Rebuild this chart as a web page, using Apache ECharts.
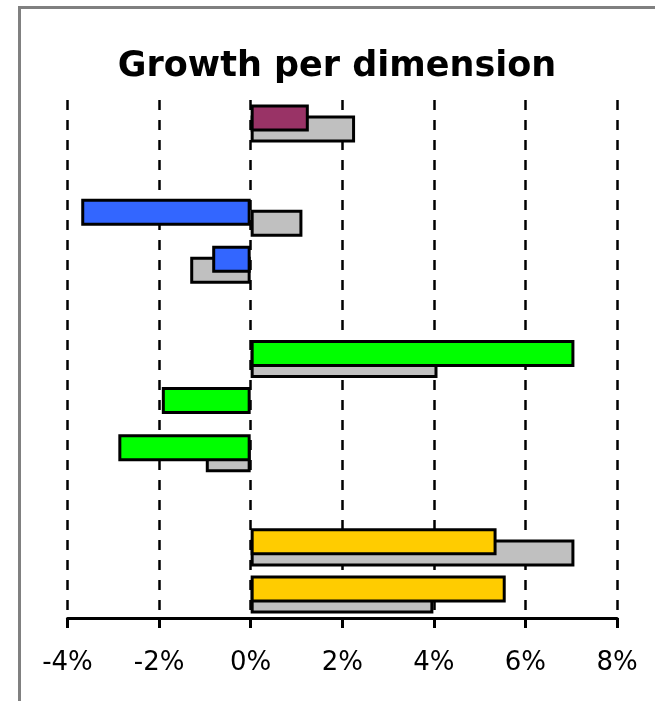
<!DOCTYPE html>
<html>
<head>
<meta charset="utf-8">
<script src="https://cdn.jsdelivr.net/npm/echarts@6/dist/echarts.min.js"></script>
<style>
  html, body { margin: 0; padding: 0; background: #fff; }
  #chart { width: 655px; height: 701px; }
</style>
</head>
<body>
<div id="chart"></div>
<script>
// Rows from top to bottom; the "sp" rows are empty spacers between groups.
const categories = ['Total', 'sp1', 'Channel A', 'Channel B', 'sp2',
                    'Region N', 'Region S', 'Region W', 'sp3', 'Segment X', 'Segment Y'];

// Growth this period (%), coloured bars
const currentGrowth = [1.27, null, -3.70, -0.84, null, 7.07, -1.94, -2.89, null, 5.37, 5.57];

// Growth previous period (%), grey bars behind
const previousGrowth = [2.28, null, 1.13, -1.32, null, 4.08, null, -0.98, null, 7.07, 3.99];

// Fill colour for each row's current bar
const rowColors = ['#993366', null, '#3366FF', '#3366FF', null,
                   '#00FF00', '#00FF00', '#00FF00', null, '#FFCC00', '#FFCC00'];

// Value-axis ticks
const axisMin = -4, axisMax = 8, axisStep = 2;

const chart = echarts.init(document.getElementById('chart'), null, { renderer: 'canvas' });

chart.setOption({
  backgroundColor: '#fff',
  animation: false,
  graphic: [
    {
      type: 'rect', silent: true, z: 0,
      shape: { x: 19.5, y: 7.5, width: 700, height: 700 },
      style: { fill: null, stroke: '#808080', lineWidth: 3 }
    },
    {
      type: 'text', silent: true, z: 10,
      x: 337, y: 67,
      style: {
        text: 'Growth per dimension',
        font: 'bold 35px "DejaVu Sans", sans-serif',
        fill: '#000',
        align: 'center',
        verticalAlign: 'middle'
      }
    }
  ],
  grid: { left: 67.5, right: 38, top: 100, bottom: 83, containLabel: false },
  xAxis: {
    type: 'value',
    min: axisMin, max: axisMax, interval: axisStep,
    axisLine: { show: true, lineStyle: { color: '#000', width: 3 } },
    axisTick: { show: true, length: 10, lineStyle: { color: '#000', width: 3 } },
    axisLabel: {
      formatter: '{value}%',
      color: '#000',
      fontSize: 26,
      fontFamily: '"DejaVu Sans", sans-serif',
      margin: 32
    },
    splitLine: { show: true, lineStyle: { color: '#000', width: 2.5, type: [10, 10] } }
  },
  yAxis: {
    type: 'category',
    data: categories,
    inverse: true,
    axisLine: { show: false },
    axisTick: { show: false },
    axisLabel: { show: false },
    splitLine: { show: false }
  },
  series: [
    {
      name: 'Current',
      type: 'bar',
      z: 3,
      barWidth: 27,
      barGap: '-59%',
      data: currentGrowth.map((v, i) => ({ value: v, itemStyle: { color: rowColors[i] || '#fff' } })),
      itemStyle: { borderColor: '#000', borderWidth: 3 }
    },
    {
      name: 'Previous',
      type: 'bar',
      z: 2,
      barWidth: 27,
      barGap: '-59%',
      data: previousGrowth,
      itemStyle: { color: '#C0C0C0', borderColor: '#000', borderWidth: 3 }
    }
  ]
});
</script>
</body>
</html>
